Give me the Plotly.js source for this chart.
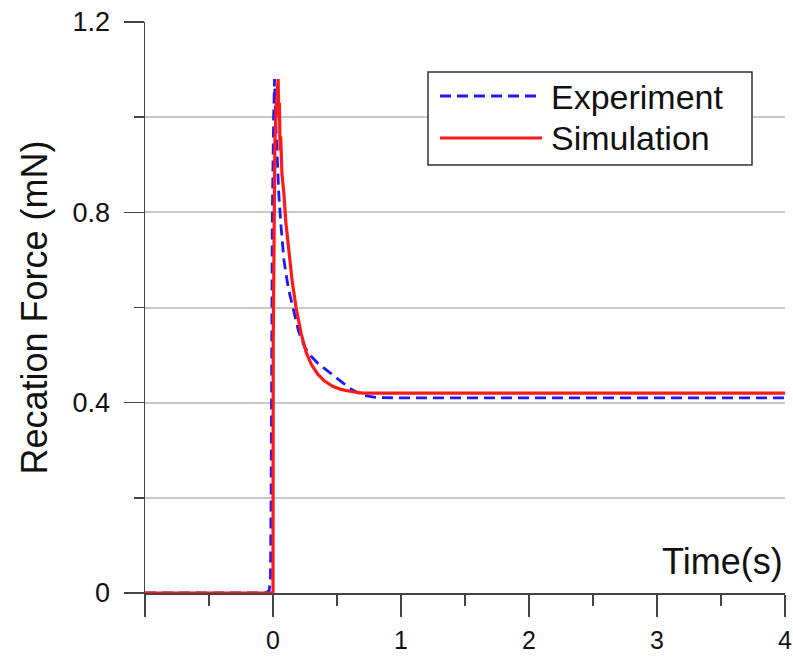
<!DOCTYPE html>
<html>
<head>
<meta charset="utf-8">
<script src="https://cdn.plot.ly/plotly-3.0.1.min.js"></script>
<style>
html,body{margin:0;padding:0;background:#fff;}
#chart{width:793px;height:657px;}
</style>
</head>
<body>
<div id="chart"></div>
<script>
// Experiment (blue dashed)
const expTime = [-1, -0.06, -0.03, -0.02, -0.015, -0.01, -0.005, 0.005, 0.012, 0.02, 0.03, 0.045, 0.06, 0.085, 0.12, 0.155, 0.2, 0.25, 0.3, 0.35, 0.42, 0.5, 0.6, 0.7, 0.8, 1, 2, 3, 4];
const expForce = [0, 0, 0.005, 0.03, 0.2, 0.5, 0.8, 1.0, 1.08, 1.0, 0.92, 0.84, 0.78, 0.70, 0.64, 0.60, 0.55, 0.515, 0.497, 0.483, 0.468, 0.45, 0.43, 0.416, 0.411, 0.41, 0.41, 0.41, 0.41];
// Simulation (red solid)
const simTime = [-1, 0.0, 0.002, 0.008, 0.015, 0.025, 0.035, 0.04, 0.045, 0.05, 0.055, 0.06, 0.07, 0.085, 0.1, 0.125, 0.15, 0.18, 0.22, 0.26, 0.3, 0.35, 0.4, 0.47, 0.53, 0.6, 0.7, 0.8, 4];
const simForce = [0, 0, 0.54, 0.8, 0.95, 1.02, 1.06, 1.08, 1.0, 1.03, 0.93, 0.96, 0.88, 0.84, 0.78, 0.71, 0.655, 0.60, 0.545, 0.505, 0.48, 0.46, 0.446, 0.434, 0.428, 0.424, 0.42, 0.42, 0.42];
const seriesNames = ["Experiment", "Simulation"];
const xTickVals = [-1, 0, 1, 2, 3, 4];
const xTickText = ["", "0", "1", "2", "3", "4"];
const yTickVals = [0, 0.4, 0.8, 1.2];
const yTickText = ["0", "0.4", "0.8", "1.2"];

const FONT = "Liberation Sans, Arial, sans-serif";
const blue = "#1a1aff";
const red = "#ff1a1a";

const traces = [
  {x: expTime, y: expForce, name: seriesNames[0], type: "scatter", mode: "lines",
   line: {color: blue, width: 2.8, dash: "11px,6px"}, showlegend: false},
  {x: simTime, y: simForce, name: seriesNames[1], type: "scatter", mode: "lines",
   line: {color: red, width: 3.2}, showlegend: false}
];

// legend drawn in paper coordinates
const px = v => (v - 145) / 640;
const py = v => (593 - v) / 571;

const layout = {
  width: 793, height: 657,
  margin: {l: 145, r: 8, t: 22, b: 64},
  paper_bgcolor: "#fff", plot_bgcolor: "#fff",
  font: {family: FONT, color: "#111"},
  showlegend: false,
  xaxis: {
    range: [-1, 4], tickmode: "array", tickvals: xTickVals, ticktext: xTickText,
    ticks: "outside", ticklen: 22, tickwidth: 1.5, tickcolor: "#444",
    showline: true, linecolor: "#444", linewidth: 1.5,
    showgrid: false, zeroline: false,
    tickfont: {size: 25, family: FONT, color: "#111"},
    ticklabelstandoff: 2,
    minor: {dtick: 0.5, tick0: -1, ticks: "outside", ticklen: 11, tickwidth: 1.5, tickcolor: "#444", showgrid: false}
  },
  yaxis: {
    range: [0, 1.2], tickmode: "array", tickvals: yTickVals, ticktext: yTickText,
    ticks: "outside", ticklen: 20, tickwidth: 1.5, tickcolor: "#444",
    showline: true, linecolor: "#444", linewidth: 1.5,
    showgrid: true, gridcolor: "#c8c8c8", gridwidth: 2, zeroline: false,
    tickfont: {size: 27, family: FONT, color: "#111"},
    ticklabelstandoff: 8,
    minor: {dtick: 0.2, tick0: 0, ticks: "outside", ticklen: 10, tickwidth: 1.5, tickcolor: "#444",
            showgrid: true, gridcolor: "#c8c8c8", gridwidth: 2},
    title: {text: "Recation Force (mN)", font: {size: 36, family: FONT, color: "#111"}, standoff: 14}
  },
  shapes: [
    {type: "rect", xref: "paper", yref: "paper", x0: px(428), x1: px(752), y0: py(165), y1: py(72),
     line: {color: "#333", width: 1.5}, fillcolor: "#fff", layer: "above"},
    {type: "line", xref: "paper", yref: "paper", x0: px(440), x1: px(542), y0: py(96), y1: py(96),
     line: {color: blue, width: 2.8, dash: "11px,6px"}},
    {type: "line", xref: "paper", yref: "paper", x0: px(440), x1: px(542), y0: py(138), y1: py(138),
     line: {color: red, width: 3}}
  ],
  annotations: [
    {xref: "paper", yref: "paper", x: px(549), y: py(97), xanchor: "left", yanchor: "middle",
     text: seriesNames[0], showarrow: false, font: {size: 34, family: FONT, color: "#111"}},
    {xref: "paper", yref: "paper", x: px(549), y: py(138), xanchor: "left", yanchor: "middle",
     text: seriesNames[1], showarrow: false, font: {size: 34, family: FONT, color: "#111"}},
    {xref: "paper", yref: "paper", x: 1, y: py(561), xanchor: "right", yanchor: "middle",
     text: "Time(s)", showarrow: false, font: {size: 36, family: FONT, color: "#111"}}
  ]
};

Plotly.newPlot("chart", traces, layout, {displayModeBar: false, staticPlot: true});
</script>
</body>
</html>
